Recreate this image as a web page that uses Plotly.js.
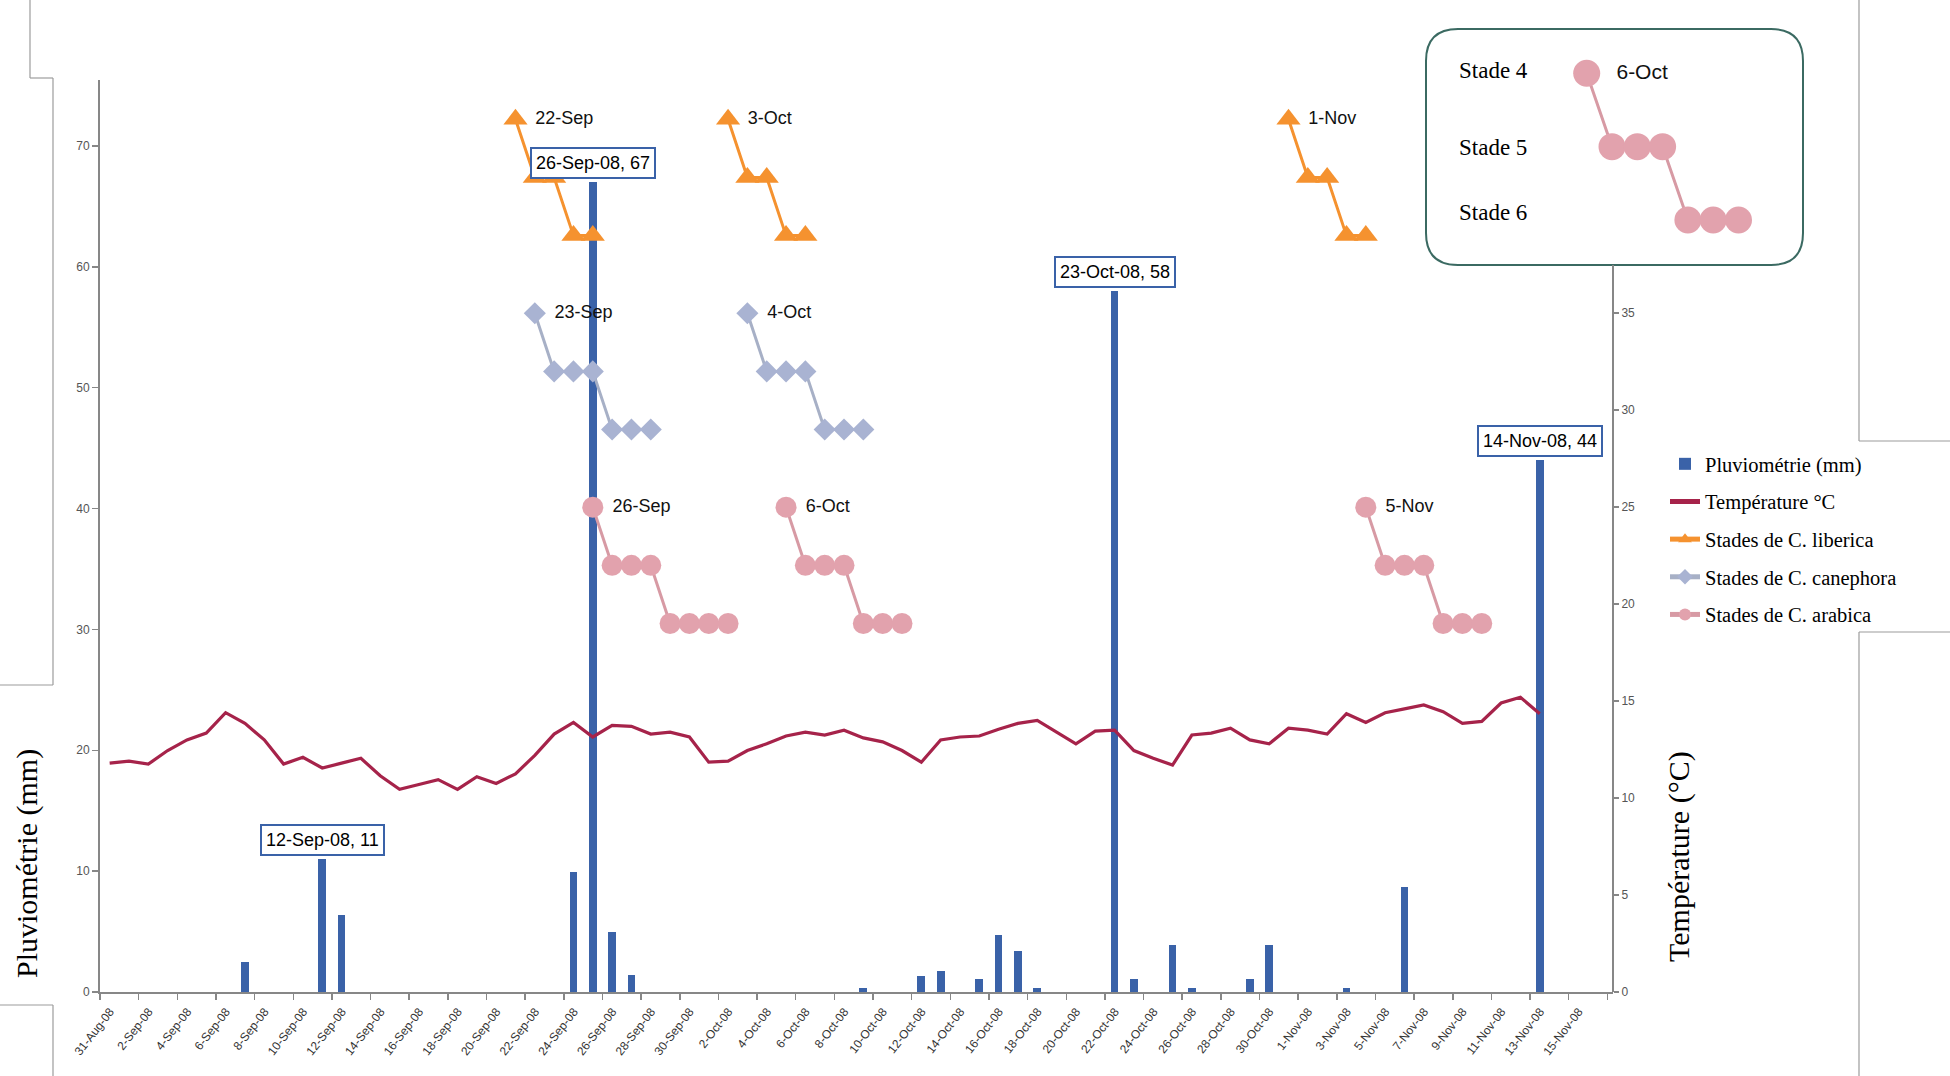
<!DOCTYPE html>
<html><head><meta charset="utf-8">
<script src="https://cdn.plot.ly/plotly-3.0.1.min.js"></script>
<style>html,body{margin:0;padding:0;background:#fff}#chart{width:1950px;height:1076px}</style>
</head><body><div id="chart"></div>
<script>
// ---------- DATA ----------
// Rainfall (mm), left axis
const rainDates = ['2008-09-08','2008-09-12','2008-09-13','2008-09-25','2008-09-26','2008-09-27','2008-09-28',
  '2008-10-10','2008-10-13','2008-10-14','2008-10-16','2008-10-17','2008-10-18','2008-10-19','2008-10-23',
  '2008-10-24','2008-10-26','2008-10-27','2008-10-30','2008-10-31','2008-11-04','2008-11-07','2008-11-14'];
const rainValues = [2.5, 11, 6.4, 9.9, 67, 5.0, 1.4, 0.3, 1.3, 1.7, 1.1, 4.7, 3.4, 0.3, 58, 1.1, 3.9, 0.3, 1.1, 3.9, 0.3, 8.7, 44];
// Bars carrying a data label
const labelledRainDates = ['2008-09-12','2008-09-26','2008-10-23','2008-11-14'];

// Temperature (°C), right axis
const tempDates = ['09-01','09-02','09-03','09-04','09-05','09-06','09-07','09-08','09-09','09-10',
  '09-11','09-12','09-13','09-14','09-15','09-16','09-17','09-18','09-19','09-20',
  '09-21','09-22','09-23','09-24','09-25','09-26','09-27','09-28','09-29','09-30',
  '10-01','10-02','10-03','10-04','10-05','10-06','10-07','10-08','10-09','10-10',
  '10-11','10-12','10-13','10-14','10-15','10-16','10-17','10-18','10-19','10-20',
  '10-21','10-22','10-23','10-24','10-25','10-26','10-27','10-28','10-29','10-30','10-31',
  '11-01','11-02','11-03','11-04','11-05','11-06','11-07','11-08','11-09','11-10',
  '11-11','11-12','11-13','11-14'].map(d => '2008-' + d);
const tempValues = [11.8, 11.9, 11.75, 12.45, 13.0, 13.35, 14.4, 13.85, 13.0, 11.75,
  12.1, 11.55, 11.8, 12.05, 11.15, 10.45, 10.7, 10.95, 10.45, 11.1,
  10.75, 11.25, 12.2, 13.3, 13.9, 13.15, 13.75, 13.7, 13.3, 13.4,
  13.15, 11.85, 11.9, 12.45, 12.8, 13.2, 13.4, 13.25, 13.5, 13.1,
  12.9, 12.45, 11.85, 13.0, 13.15, 13.2, 13.55, 13.85, 14.0, 13.4,
  12.8, 13.45, 13.5, 12.45, 12.05, 11.7, 13.25, 13.35, 13.6, 13.0, 12.8,
  13.6, 13.5, 13.3, 14.35, 13.9, 14.4, 14.6, 14.8, 14.45, 13.85,
  13.95, 14.9, 15.2, 14.35];

// Phenological stages (plotted on right axis), groups separated by null
const libericaDates = ['2008-09-22','2008-09-23','2008-09-24','2008-09-25','2008-09-26', null,
  '2008-10-03','2008-10-04','2008-10-05','2008-10-06','2008-10-07', null,
  '2008-11-01','2008-11-02','2008-11-03','2008-11-04','2008-11-05'];
const libericaValues = [45, 42, 42, 39, 39, null, 45, 42, 42, 39, 39, null, 45, 42, 42, 39, 39];

const canephoraDates = ['2008-09-23','2008-09-24','2008-09-25','2008-09-26','2008-09-27','2008-09-28','2008-09-29', null,
  '2008-10-04','2008-10-05','2008-10-06','2008-10-07','2008-10-08','2008-10-09','2008-10-10'];
const canephoraValues = [35, 32, 32, 32, 29, 29, 29, null, 35, 32, 32, 32, 29, 29, 29];

const arabicaDates = ['2008-09-26','2008-09-27','2008-09-28','2008-09-29','2008-09-30','2008-10-01','2008-10-02','2008-10-03', null,
  '2008-10-06','2008-10-07','2008-10-08','2008-10-09','2008-10-10','2008-10-11','2008-10-12', null,
  '2008-11-05','2008-11-06','2008-11-07','2008-11-08','2008-11-09','2008-11-10','2008-11-11'];
const arabicaValues = [25, 22, 22, 22, 19, 19, 19, 19, null, 25, 22, 22, 22, 19, 19, 19, null, 25, 22, 22, 22, 19, 19, 19];

const stageNames = ['Stade 4', 'Stade 5', 'Stade 6'];

// Axis tick labels
const xTickLabels = ['31-Aug-08','2-Sep-08','4-Sep-08','6-Sep-08','8-Sep-08','10-Sep-08','12-Sep-08','14-Sep-08',
  '16-Sep-08','18-Sep-08','20-Sep-08','22-Sep-08','24-Sep-08','26-Sep-08','28-Sep-08','30-Sep-08',
  '2-Oct-08','4-Oct-08','6-Oct-08','8-Oct-08','10-Oct-08','12-Oct-08','14-Oct-08','16-Oct-08',
  '18-Oct-08','20-Oct-08','22-Oct-08','24-Oct-08','26-Oct-08','28-Oct-08','30-Oct-08',
  '1-Nov-08','3-Nov-08','5-Nov-08','7-Nov-08','9-Nov-08','11-Nov-08','13-Nov-08','15-Nov-08'];
const leftTicks = [0, 10, 20, 30, 40, 50, 60, 70];
const rightTicks = [0, 5, 10, 15, 20, 25, 30, 35];

// ---------- HELPERS ----------
const MONTHS = ['Jan','Feb','Mar','Apr','May','Jun','Jul','Aug','Sep','Oct','Nov','Dec'];
function parseISO(s){ const p = s.split('-').map(Number); return {y:p[0], m:p[1], d:p[2]}; }
function dayMon(s){ const q = parseISO(s); return q.d + '-' + MONTHS[q.m-1]; }
function dayMonYr(s){ const q = parseISO(s); return q.d + '-' + MONTHS[q.m-1] + '-' + String(q.y).slice(2); }
function pad(n){ return (n < 10 ? '0' : '') + n; }
function labelToISO(lbl){ const p = lbl.split('-'); return '20' + p[2] + '-' + pad(MONTHS.indexOf(p[1]) + 1) + '-' + pad(+p[0]); }
function groups(dates, vals){
  const out = []; let cur = null;
  dates.forEach((d, i) => {
    if (d === null){ cur = null; return; }
    if (!cur){ cur = {x: [], y: []}; out.push(cur); }
    cur.x.push(d); cur.y.push(vals[i]);
  });
  return out;
}

// layout geometry (pixels -> paper)
const W = 1950, H = 1076, ML = 100, MR = 20, MT = 20, MB = 84;
const PW = W - ML - MR, PH = H - MT - MB;
const px = X => (X - ML) / PW;
const py = Y => (H - MB - Y) / PH;

// ---------- TRACES ----------
const colLib = '#F5922F', colCan = '#A9B3D2', colAra = '#E2A2AD';
const labelFont = {family: 'Liberation Sans, Arial, sans-serif', size: 18, color: '#111'};
const traces = [];
traces.push({type: 'bar', x: rainDates, y: rainValues, width: 0.4 * 86400000, name: 'Pluviométrie (mm)',
  marker: {color: '#3A62A8'}, xaxis: 'x', yaxis: 'y', legendgroup: 'g1'});
traces.push({type: 'scatter', mode: 'lines', x: tempDates, y: tempValues, name: 'Température °C',
  line: {color: '#A6234A', width: 3.2}, xaxis: 'x', yaxis: 'y2', legendgroup: 'g2'});
traces.push({type: 'scatter', mode: 'lines+markers', x: libericaDates, y: libericaValues, name: 'Stades de C. liberica',
  line: {color: colLib, width: 3}, marker: {symbol: 'triangle-up', size: 21, color: colLib},
  xaxis: 'x', yaxis: 'y2', cliponaxis: false, legendgroup: 'g3'});
traces.push({type: 'scatter', mode: 'lines+markers', x: canephoraDates, y: canephoraValues, name: 'Stades de C. canephora',
  line: {color: '#A7B0C6', width: 3}, marker: {symbol: 'diamond', size: 17, color: colCan},
  xaxis: 'x', yaxis: 'y2', cliponaxis: false, legendgroup: 'g4'});
traces.push({type: 'scatter', mode: 'lines+markers', x: arabicaDates, y: arabicaValues, name: 'Stades de C. arabica',
  line: {color: '#D79AA4', width: 3}, marker: {symbol: 'circle', size: 21, color: colAra},
  xaxis: 'x', yaxis: 'y2', cliponaxis: false, legendgroup: 'g5'});

// labels at the first point of each stage group
const lx = [], ly = [], lt = [];
[[libericaDates, libericaValues], [canephoraDates, canephoraValues], [arabicaDates, arabicaValues]].forEach(([d, v]) => {
  groups(d, v).forEach(g => { lx.push(g.x[0]); ly.push(g.y[0]); lt.push(dayMon(g.x[0])); });
});
traces.push({type: 'scatter', mode: 'markers+text', x: lx, y: ly, text: lt, textposition: 'middle right',
  marker: {size: 30, color: 'rgba(0,0,0,0)'}, textfont: labelFont,
  xaxis: 'x', yaxis: 'y2', showlegend: false, cliponaxis: false, hoverinfo: 'skip'});

// inset: enlarged example of a C. arabica group
const inset = groups(arabicaDates, arabicaValues)[1];
traces.push({type: 'scatter', mode: 'lines+markers', x: inset.x, y: inset.y,
  line: {color: '#D79AA4', width: 3}, marker: {symbol: 'circle', size: 27, color: colAra},
  xaxis: 'x3', yaxis: 'y3', showlegend: false, cliponaxis: false, hoverinfo: 'skip'});
traces.push({type: 'scatter', mode: 'markers+text', x: [inset.x[0]], y: [inset.y[0]], text: [dayMon(inset.x[0])],
  textposition: 'middle right', marker: {size: 46, color: 'rgba(0,0,0,0)'},
  textfont: {family: 'Liberation Sans, Arial, sans-serif', size: 21, color: '#111'},
  xaxis: 'x3', yaxis: 'y3', showlegend: false, cliponaxis: false, hoverinfo: 'skip'});

// ---------- LAYOUT ----------
const tickvals = xTickLabels.map(l => labelToISO(l) + ' 12:00');
tickvals.push('2008-11-17 12:00');
const ticktext = xTickLabels.concat(['']);

const axisGray = '#878787';
const annotations = [];
labelledRainDates.forEach(d => {
  const v = rainValues[rainDates.indexOf(d)];
  annotations.push({x: d, y: v, xref: 'x', yref: 'y', text: dayMonYr(d) + ', ' + v, showarrow: false,
    yanchor: 'bottom', xanchor: 'center', yshift: 3, bgcolor: '#fff', bordercolor: '#3A62A8', borderwidth: 2, borderpad: 4,
    font: {family: 'Liberation Sans, Arial, sans-serif', size: 18, color: '#000'}});
});
const stageLabelY = [70, 148, 212];
stageNames.forEach((s, i) => {
  annotations.push({x: px(1457), xref: 'paper', xanchor: 'left', y: py(stageLabelY[i]), yref: 'paper', yanchor: 'middle',
    text: s, showarrow: false, font: {family: 'Liberation Serif, Times New Roman, serif', size: 23, color: '#000'}});
});
annotations.push({x: px(27), y: py(864), xref: 'paper', yref: 'paper', text: 'Pluviométrie (mm)', textangle: -90,
  showarrow: false, xanchor: 'center', yanchor: 'middle', font: {family: 'Liberation Serif, Times New Roman, serif', size: 30, color: '#000'}});
annotations.push({x: px(1679), y: py(857), xref: 'paper', yref: 'paper', text: 'Température (°C)', textangle: -90,
  showarrow: false, xanchor: 'center', yanchor: 'middle', font: {family: 'Liberation Serif, Times New Roman, serif', size: 30, color: '#000'}});

// rounded inset frame
const bx0 = px(1426), bx1 = px(1803), by0 = py(265), by1 = py(29);
const rx = 32 / PW, ry = 32 / PH;
const boxPath = `M ${bx0 + rx},${by1} L ${bx1 - rx},${by1} Q ${bx1},${by1} ${bx1},${by1 - ry} L ${bx1},${by0 + ry} Q ${bx1},${by0} ${bx1 - rx},${by0} L ${bx0 + rx},${by0} Q ${bx0},${by0} ${bx0},${by0 + ry} L ${bx0},${by1 - ry} Q ${bx0},${by1} ${bx0 + rx},${by1} Z`;
const shapes = [
  {type: 'path', path: boxPath, xref: 'paper', yref: 'paper', fillcolor: '#fff', line: {color: '#3B6A62', width: 2}, layer: 'below'},
  {type: 'line', xref: 'paper', yref: 'paper', x0: px(1613), x1: px(1613), y0: 0, y1: by0, line: {color: axisGray, width: 2}, layer: 'below'}
];
const frameLines = [[30,0,30,78],[30,78,53,78],[53,78,53,685],[0,685,53,685],[0,1005,53,1005],[53,1005,53,1076],
  [1859,0,1859,441],[1859,441,1950,441],[1859,632,1950,632],[1859,632,1859,1076]];
frameLines.forEach(f => shapes.push({type: 'line', xref: 'paper', yref: 'paper', x0: px(f[0]), y0: py(f[1]), x1: px(f[2]), y1: py(f[3]),
  line: {color: '#9c9c9c', width: 1.2}, layer: 'below'}));

const tickFont = {family: 'Liberation Sans, Arial, sans-serif', size: 12, color: '#555'};
const layout = {
  width: W, height: H,
  margin: {l: ML, r: MR, t: MT, b: MB, autoexpand: false},
  paper_bgcolor: '#fff', plot_bgcolor: 'rgba(0,0,0,0)',
  showlegend: true, bargap: 0,
  xaxis: {type: 'date', domain: [0, px(1613)], range: ['2008-08-31 12:00', '2008-11-17 19:00'],
    tickmode: 'array', tickvals: tickvals, ticktext: ticktext, tickangle: -52, ticklabelshift: 10,
    ticks: 'outside', ticklen: 6, tickwidth: 1.5, tickcolor: axisGray,
    showline: true, linecolor: axisGray, linewidth: 2, showgrid: false, zeroline: false,
    tickfont: {family: 'Liberation Sans, Arial, sans-serif', size: 12, color: '#333'}, anchor: 'y'},
  yaxis: {domain: [0, py(79.5)], range: [0, 75.5], tickmode: 'array', tickvals: leftTicks,
    ticks: 'outside', ticklen: 6, tickwidth: 1.5, tickcolor: axisGray,
    showline: true, linecolor: axisGray, linewidth: 2, showgrid: false, zeroline: false, tickfont: tickFont, anchor: 'x'},
  yaxis2: {overlaying: 'y', side: 'right', anchor: 'x', range: [0, 47.05], tickmode: 'array', tickvals: rightTicks,
    ticks: 'outside', ticklen: 5, tickwidth: 1.5, tickcolor: axisGray,
    showline: false, showgrid: false, zeroline: false, tickfont: tickFont},
  xaxis3: {type: 'date', domain: [px(1561.4), px(1763.8)], range: ['2008-10-05', '2008-10-13'], visible: false, anchor: 'y3'},
  yaxis3: {domain: [py(268.9), py(24.4)], range: [17, 27], visible: false, anchor: 'x3'},
  legend: {x: px(1665), y: py(444), xanchor: 'left', yanchor: 'top', bgcolor: 'rgba(0,0,0,0)', borderwidth: 0,
    traceorder: 'grouped', tracegroupgap: 8, itemsizing: 'constant',
    font: {family: 'Liberation Serif, Times New Roman, serif', size: 20.5, color: '#000'}},
  annotations: annotations,
  shapes: shapes
};

Plotly.newPlot('chart', traces, layout, {staticPlot: true, displayModeBar: false});
</script>
</body></html>
